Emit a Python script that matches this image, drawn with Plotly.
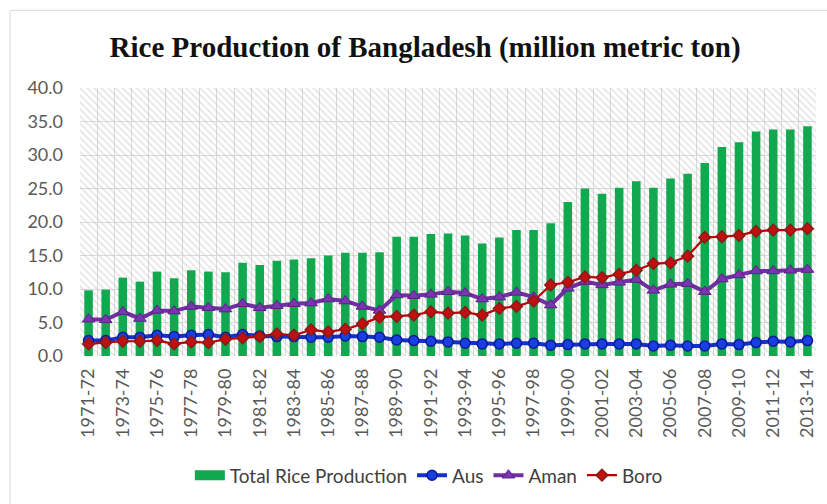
import plotly.graph_objects as go

# Fiscal years
years = [
    "1971-72", "1972-73", "1973-74", "1974-75", "1975-76", "1976-77", "1977-78",
    "1978-79", "1979-80", "1980-81", "1981-82", "1982-83", "1983-84", "1984-85",
    "1985-86", "1986-87", "1987-88", "1988-89", "1989-90", "1990-91", "1991-92",
    "1992-93", "1993-94", "1994-95", "1995-96", "1996-97", "1997-98", "1998-99",
    "1999-00", "2000-01", "2001-02", "2002-03", "2003-04", "2004-05", "2005-06",
    "2006-07", "2007-08", "2008-09", "2009-10", "2010-11", "2011-12", "2012-13",
    "2013-14",
]

# Production, million metric ton
total = [
    9.8, 9.9, 11.7, 11.1, 12.6, 11.6, 12.8, 12.6, 12.5, 13.9, 13.6, 14.2, 14.4,
    14.6, 15.0, 15.4, 15.4, 15.5, 17.8, 17.8, 18.2, 18.3, 18.0, 16.8, 17.7, 18.8,
    18.8, 19.8, 23.0, 25.0, 24.2, 25.1, 26.1, 25.1, 26.5, 27.2, 28.8, 31.2, 31.9,
    33.5, 33.8, 33.8, 34.3,
]
aus = [
    2.3, 2.3, 2.8, 2.8, 3.1, 2.9, 3.1, 3.2, 2.8, 3.2, 3.0, 2.9, 2.9, 2.8, 2.8,
    3.0, 2.9, 2.8, 2.4, 2.3, 2.2, 2.1, 1.9, 1.8, 1.8, 1.9, 1.9, 1.6, 1.7, 1.8,
    1.8, 1.8, 1.8, 1.5, 1.6, 1.5, 1.5, 1.8, 1.7, 2.0, 2.2, 2.1, 2.3,
]
aman = [
    5.5, 5.4, 6.6, 5.6, 6.8, 6.7, 7.4, 7.2, 7.0, 7.8, 7.2, 7.5, 7.8, 7.9, 8.5,
    8.2, 7.4, 6.8, 9.1, 9.0, 9.2, 9.6, 9.4, 8.5, 8.8, 9.5, 8.8, 7.6, 10.1, 11.1,
    10.6, 11.0, 11.4, 9.8, 10.7, 10.8, 9.6, 11.5, 12.1, 12.7, 12.7, 12.8, 12.9,
]
boro = [
    1.8, 2.0, 2.2, 2.2, 2.3, 1.8, 2.1, 2.0, 2.5, 2.7, 2.9, 3.3, 3.1, 3.9, 3.6,
    4.0, 4.8, 5.8, 5.9, 6.1, 6.6, 6.4, 6.5, 6.1, 7.1, 7.4, 8.2, 10.6, 11.0, 11.8,
    11.7, 12.2, 12.8, 13.8, 13.9, 14.9, 17.7, 17.8, 18.0, 18.6, 18.8, 18.8, 19.0,
]

y_ticks = [0, 5, 10, 15, 20, 25, 30, 35, 40]

idx = list(range(len(years)))
label_idx = idx[::2]
label_text = years[::2]

BODY_FONT = "Lato, 'Open Sans', sans-serif"
TICK_FONT = dict(family=BODY_FONT, size=18, color="#595959")
GRID = "#d9d9d9"
GREEN = "#12a84f"

x_lo, x_hi = -0.5, len(years) - 0.5

fig = go.Figure()

# Diagonal hatch behind everything in the plotting area (one wide bar)
fig.add_trace(go.Bar(
    x=[(x_lo + x_hi) / 2], y=[y_ticks[-1]], width=[x_hi - x_lo],
    marker=dict(color="rgba(0,0,0,0)", line=dict(width=0),
                pattern=dict(shape="\\", size=5, solidity=0.3,
                             fgcolor="#c8c8c8", bgcolor="rgba(0,0,0,0)")),
    hoverinfo="skip", showlegend=False,
))

fig.add_trace(go.Bar(
    x=idx, y=total, name="Total Rice Production",
    marker=dict(color=GREEN, line=dict(width=0)),
    width=0.5, showlegend=False, legendgroup="total",
))
# Legend key for the bars: a wide green block
fig.add_trace(go.Scatter(
    x=[None], y=[None], name="Total Rice Production", mode="lines",
    line=dict(color=GREEN, width=12), legendgroup="total",
))
fig.add_trace(go.Scatter(
    x=idx, y=aus, name="Aus", mode="lines+markers",
    line=dict(color="#1430c8", width=4),
    marker=dict(symbol="circle", size=10, color="#1a3fe0",
                line=dict(color="#0a1a9a", width=1.5)),
))
fig.add_trace(go.Scatter(
    x=idx, y=aman, name="Aman", mode="lines+markers",
    line=dict(color="#7030a0", width=4),
    marker=dict(symbol="triangle-up", size=11, color="#7a35b0",
                line=dict(color="#5a2088", width=1)),
))
fig.add_trace(go.Scatter(
    x=idx, y=boro, name="Boro", mode="lines+markers",
    line=dict(color="#c00000", width=2.2),
    marker=dict(symbol="diamond", size=9, color="#c01010",
                line=dict(color="#8b1a1a", width=1.5)),
))

fig.update_layout(
    width=827, height=504,
    paper_bgcolor="white", plot_bgcolor="white",
    margin=dict(l=80, r=11, t=88, b=147),
    barmode="overlay",
    title=dict(
        text="<b>Rice Production of Bangladesh (million metric ton)</b>",
        x=0.514, xanchor="center", y=0.907, yanchor="middle",
        font=dict(family="'Liberation Serif', serif", size=29, color="#111111"),
    ),
    xaxis=dict(
        range=[x_lo, x_hi],
        tickmode="array", tickvals=label_idx, ticktext=label_text,
        tickangle=-90, tickfont=TICK_FONT, ticks="", ticklabelstandoff=8,
        showgrid=False, zeroline=False, showline=False,
        minor=dict(tickvals=[i - 0.5 for i in idx] + [x_hi],
                   showgrid=True, gridcolor=GRID, gridwidth=1, ticks=""),
    ),
    yaxis=dict(
        range=[0, 40], tickvals=y_ticks,
        ticktext=[f"{v:.1f}" for v in y_ticks],
        tickfont=TICK_FONT, showgrid=True, gridcolor=GRID, gridwidth=1,
        zeroline=False, showline=False, ticks="", ticklabelstandoff=16,
    ),
    legend=dict(
        orientation="h", x=0.474, xanchor="center", y=-0.44, yanchor="middle",
        font=dict(family=BODY_FONT, size=19, color="#404040"),
        traceorder="normal",
    ),
    shapes=[
        dict(type="line", xref="paper", yref="paper", x0=-0.095, x1=1.02,
             y0=1.29, y1=1.29, line=dict(color="#d9d9d9", width=1)),
        dict(type="line", xref="paper", yref="paper", x0=-0.095, x1=-0.095,
             y0=-0.6, y1=1.29, line=dict(color="#d9d9d9", width=1)),
    ],
)

fig.write_html("out.html")
